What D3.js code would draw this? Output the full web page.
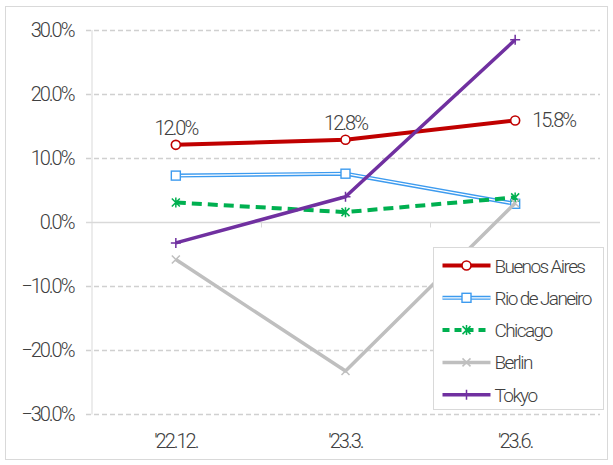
<!DOCTYPE html>
<html>
<head>
<meta charset="utf-8">
<script src="https://cdn.jsdelivr.net/npm/d3@7"></script>
<style>
	body{margin:0;background:#fff;}
	text{font-family:Roboto,"Noto Sans",sans-serif;font-weight:300;fill:#404040;}
</style>
</head>
<body>
<script>
	// data
	var categories = ["'22.12.", "'23.3.", "'23.6."];
	var yTicks = [-30, -20, -10, 0, 10, 20, 30];
	var buenosAires = [12.0, 12.8, 15.8];
	var rioDeJaneiro = [7.2, 7.5, 2.8];
	var chicago = [3.0, 1.5, 3.8];
	var berlin = [-5.9, -23.3, 2.9];
	var tokyo = [-3.3, 3.9, 28.4];
	var seriesNames = ["Buenos Aires", "Rio de Janeiro", "Chicago", "Berlin", "Tokyo"];

	const Config = {
		svg: {Width: 613, Height: 465},
		plot: {left: 91, right: 600, top: 29.5, bottom: 414}
	};

	var series = [
		{name: seriesNames[0], values: buenosAires, color: '#C00000', width: 4, marker: 'circle'},
		{name: seriesNames[1], values: rioDeJaneiro, color: '#3D9BEF', width: 4, marker: 'square', double: true},
		{name: seriesNames[2], values: chicago, color: '#00B050', width: 4, marker: 'star', dash: '10,6'},
		{name: seriesNames[3], values: berlin, color: '#BFBFBF', width: 3.5, marker: 'x'},
		{name: seriesNames[4], values: tokyo, color: '#7030A0', width: 3.5, marker: 'plus'}
	];

	var svg = d3.select('body').append('svg')
		.attr('width', Config.svg.Width)
		.attr('height', Config.svg.Height);

	// outer frame
	svg.append('rect')
		.attr('x', 5.5).attr('y', 6.5)
		.attr('width', 602).attr('height', 453)
		.attr('fill', 'none').attr('stroke', '#D9D9D9');

	var scaleX = d3.scaleBand().domain(categories).range([Config.plot.left, Config.plot.right]);
	var scaleY = d3.scaleLinear().domain([-30, 30]).range([Config.plot.bottom, Config.plot.top]);
	var cx = function(i){ return scaleX(categories[i]) + scaleX.bandwidth()/2; };

	// grid
	svg.append('g').selectAll('line')
		.data(yTicks.filter(function(d){ return d !== 0; }))
		.enter().append('line')
			.attr('x1', 86).attr('x2', Config.plot.right)
			.attr('y1', function(d){ return Math.round(scaleY(d)) + 0.5; })
			.attr('y2', function(d){ return Math.round(scaleY(d)) + 0.5; })
			.attr('stroke', '#D0D0D0').attr('stroke-width', 1.3)
			.attr('stroke-dasharray', '5,3');

	// y axis
	var axisY = svg.append('g')
		.attr('transform', 'translate(' + (Config.plot.left + 0.5) + ',0)')
		.call(d3.axisLeft(scaleY).tickValues(yTicks).tickSize(0).tickPadding(18)
			.tickFormat(function(d){ return d3.format('.1f')(d) + '%'; }));
	axisY.select('.domain').attr('stroke', '#D9D9D9');
	axisY.selectAll('text').attr('font-size', 20).attr('letter-spacing', -2).attr('fill', '#404040')
		.attr('dy', '0.34em');

	// x axis at zero
	var zeroY = Math.round(scaleY(0)) + 0.5;
	svg.append('line')
		.attr('x1', 86).attr('x2', Config.plot.right)
		.attr('y1', zeroY).attr('y2', zeroY)
		.attr('stroke', '#D9D9D9').attr('stroke-width', 1.3);
	svg.append('g').selectAll('line')
		.data([1, 2])
		.enter().append('line')
			.attr('x1', function(d){ return Math.round(Config.plot.left + d*scaleX.bandwidth()) + 0.5; })
			.attr('x2', function(d){ return Math.round(Config.plot.left + d*scaleX.bandwidth()) + 0.5; })
			.attr('y1', zeroY).attr('y2', zeroY + 5)
			.attr('stroke', '#D9D9D9');
	svg.append('g').selectAll('text')
		.data(categories)
		.enter().append('text')
			.attr('x', function(d, i){ return cx(i); })
			.attr('y', 448)
			.attr('text-anchor', 'middle')
			.attr('font-size', 20).attr('letter-spacing', -2)
			.text(function(d){ return d; });

	function drawMarker(g, type, color, x, y){
		var s = 4;
		if(type === 'circle'){
			g.append('circle').attr('cx', x).attr('cy', y).attr('r', 4.5)
				.attr('fill', '#fff').attr('stroke', color).attr('stroke-width', 1.6);
		}else if(type === 'square'){
			g.append('rect').attr('x', x - 4.5).attr('y', y - 4.5).attr('width', 9).attr('height', 9)
				.attr('fill', '#fff').attr('stroke', color).attr('stroke-width', 1.4);
		}else{
			var p = d3.path();
			if(type === 'x' || type === 'star'){
				p.moveTo(x - s, y - s); p.lineTo(x + s, y + s);
				p.moveTo(x - s, y + s); p.lineTo(x + s, y - s);
			}
			if(type === 'plus' || type === 'star'){
				p.moveTo(x, y - (s + 1)); p.lineTo(x, y + s + 1);
			}
			if(type === 'plus'){
				p.moveTo(x - s - 1, y); p.lineTo(x + s + 1, y);
			}
			g.append('path').attr('d', p.toString())
				.attr('fill', 'none').attr('stroke', color).attr('stroke-width', 1.5);
		}
	}

	var line = d3.line()
		.x(function(d, i){ return cx(i); })
		.y(function(d){ return scaleY(d); });

	// lines, drawn in order
	series.forEach(function(s){
		var g = svg.append('g').attr('class', 'series');
		g.append('path').datum(s.values)
			.attr('d', line)
			.attr('fill', 'none')
			.attr('stroke', s.color)
			.attr('stroke-width', s.width)
			.attr('stroke-linejoin', 'round')
			.attr('stroke-dasharray', s.dash || null);
		if(s.double){
			g.append('path').datum(s.values)
				.attr('d', line)
				.attr('fill', 'none').attr('stroke', '#fff').attr('stroke-width', 1.3);
		}
		s.values.forEach(function(v, i){ drawMarker(g, s.marker, s.color, cx(i), scaleY(v)); });
	});

	// data labels for Buenos Aires
	svg.append('g').selectAll('text')
		.data(buenosAires)
		.enter().append('text')
			.attr('x', function(d, i){ return i < 2 ? cx(i) : cx(i) + 17; })
			.attr('y', function(d, i){ return i < 2 ? scaleY(d) - 10 : scaleY(d) + 7; })
			.attr('text-anchor', function(d, i){ return i < 2 ? 'middle' : 'start'; })
			.attr('font-size', 20).attr('letter-spacing', -2)
			.text(function(d){ return d3.format('.1f')(d) + '%'; });

	// legend
	var legend = svg.append('g').attr('transform', 'translate(433.5,247.5)');
	legend.append('rect').attr('width', 170).attr('height', 162)
		.attr('fill', '#fff').attr('stroke', '#D9D9D9');
	series.forEach(function(s, i){
		var y = 18 + i*32.3;
		var g = legend.append('g');
		g.append('line').attr('x1', 9).attr('x2', 57).attr('y1', y).attr('y2', y)
			.attr('stroke', s.color).attr('stroke-width', s.width)
			.attr('stroke-dasharray', s.dash ? '7,5' : null);
		if(s.double){
			g.append('line').attr('x1', 9).attr('x2', 57).attr('y1', y).attr('y2', y)
				.attr('stroke', '#fff').attr('stroke-width', 1.3);
		}
		drawMarker(g, s.marker, s.color, 33, y);
		g.append('text').attr('x', 61).attr('y', y + 7)
			.attr('font-size', 19).attr('letter-spacing', -1.6)
			.text(s.name);
	});
</script>
</body>
</html>
